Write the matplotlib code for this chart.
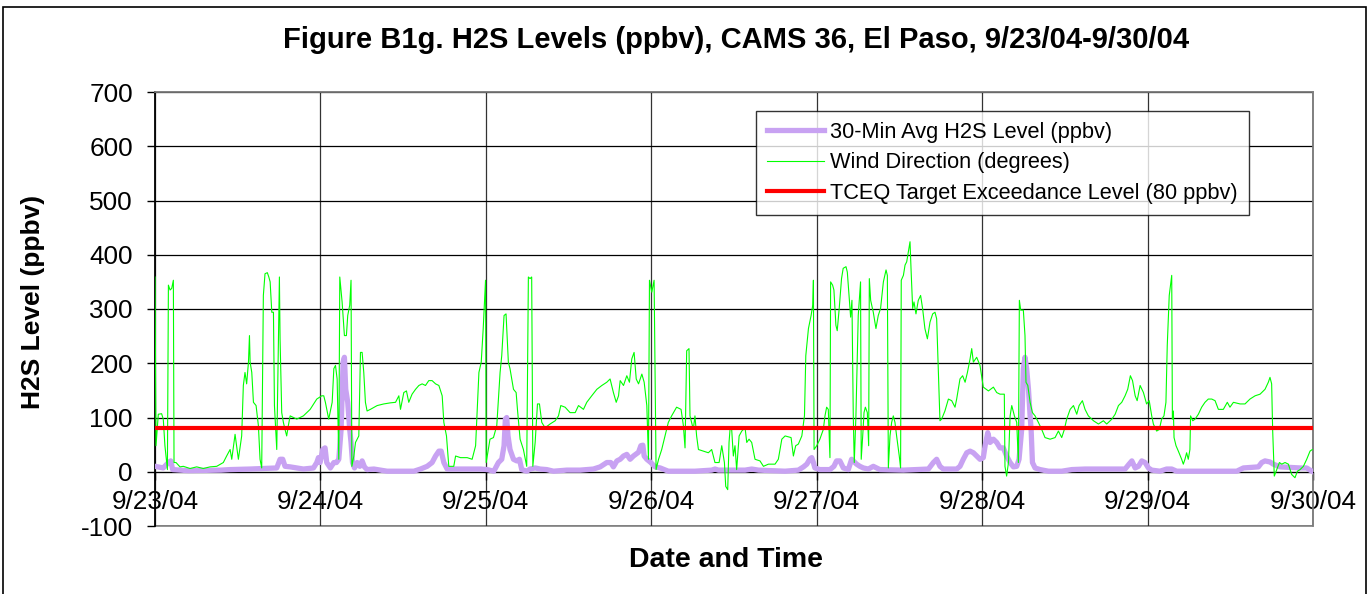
import numpy as np
import matplotlib
matplotlib.use("Agg")
import matplotlib.pyplot as plt
from matplotlib.patches import Rectangle

plt.rcParams['font.family'] = ['Liberation Sans', 'DejaVu Sans']

# days since 9/23/04 00:00
date_labels = ['9/23/04', '9/24/04', '9/25/04', '9/26/04', '9/27/04', '9/28/04', '9/29/04', '9/30/04']
y_ticks = [-100, 0, 100, 200, 300, 400, 500, 600, 700]
target_level = 80

h2s_day = [0, 0.05, 0.081, 0.095, 0.107, 0.2, 0.4, 0.454, 0.575, 0.736, 0.756, 0.772, 0.786, 0.817,
           0.897, 0.958, 0.978, 0.988, 0.998, 1.014, 1.028, 1.038, 1.06, 1.081, 1.097, 1.111, 1.125,
           1.137, 1.145, 1.153, 1.165, 1.177, 1.185, 1.194, 1.206, 1.222, 1.238, 1.252, 1.266, 1.282,
           1.323, 1.403, 1.565, 1.605, 1.645, 1.675, 1.696, 1.716, 1.730, 1.746, 1.766, 1.847, 1.968,
           2.008, 2.048, 2.076, 2.096, 2.110, 2.118, 2.126, 2.134, 2.146, 2.167, 2.187, 2.203, 2.217,
           2.247, 2.267, 2.298, 2.328, 2.368, 2.409, 2.489, 2.570, 2.650, 2.691, 2.731, 2.755, 2.771,
           2.792, 2.812, 2.832, 2.852, 2.872, 2.892, 2.923, 2.937, 2.949, 2.957, 2.973, 2.997, 3.023,
           3.054, 3.103, 3.264, 3.365, 3.385, 3.406, 3.567, 3.607, 3.648, 3.809, 3.889, 3.920, 3.940,
           3.960, 3.970, 3.980, 3.989, 4.019, 4.080, 4.104, 4.120, 4.140, 4.161, 4.191, 4.211, 4.221,
           4.241, 4.261, 4.282, 4.312, 4.342, 4.362, 4.382, 4.524, 4.675, 4.705, 4.725, 4.745, 4.765,
           4.846, 4.866, 4.886, 4.907, 4.927, 4.947, 4.967, 4.987, 5.007, 5.018, 5.034, 5.048, 5.068,
           5.088, 5.108, 5.128, 5.148, 5.169, 5.189, 5.209, 5.223, 5.239, 5.249, 5.259, 5.269, 5.280,
           5.290, 5.296, 5.304, 5.320, 5.350, 5.401, 5.481, 5.542, 5.622, 5.864, 5.888, 5.905, 5.925,
           5.945, 5.965, 5.985, 6.005, 6.025, 6.075, 6.115, 6.146, 6.176, 6.539, 6.579, 6.670, 6.690,
           6.710, 6.740, 6.760, 6.801, 6.922, 6.962, 6.982, 7.0]
h2s_ppbv = [10, 7, 17, 20, 4, 2, 3, 4, 5, 7, 23, 23, 10, 9,
            5, 7, 17, 26, 17, 41, 44, 17, 7, 17, 17, 23, 78,
            202, 211, 152, 128, 78, 54, 17, 7, 17, 10, 20, 9, 4,
            5, 1, 1, 5, 10, 17, 29, 38, 38, 17, 5, 5, 5,
            4, 1, 17, 23, 48, 97, 100, 66, 41, 23, 20, 23, 4,
            1, 5, 7, 5, 4, 1, 3, 3, 5, 9, 17, 17, 9,
            20, 23, 29, 32, 23, 29, 36, 48, 49, 29, 23, 17, 9,
            7, 1, 1, 3, 5, 3, 3, 5, 3, 1, 3, 9, 14,
            24, 26, 17, 7, 4, 4, 10, 20, 20, 7, 4, 23, 20,
            14, 10, 7, 5, 10, 7, 4, 3, 5, 17, 23, 10, 5,
            5, 10, 23, 35, 38, 35, 29, 23, 26, 48, 72, 54, 60,
            54, 44, 44, 29, 17, 9, 10, 23, 78, 190, 211, 190, 152,
            103, 78, 17, 7, 4, 1, 1, 4, 5, 5, 14, 20, 7,
            10, 20, 17, 7, 3, 1, 5, 5, 1, 1, 7, 9, 17,
            20, 18, 14, 9, 7, 7, 3, 0]

wind_day = [0.000, 0.006, 0.020, 0.040, 0.050, 0.060, 0.075, 0.081, 0.091, 0.101, 0.111, 0.115, 0.127,
            0.151, 0.171, 0.212, 0.252, 0.292, 0.333, 0.373, 0.413, 0.433, 0.454, 0.464, 0.484, 0.504,
            0.524, 0.534, 0.544, 0.554, 0.565, 0.571, 0.575, 0.585, 0.595, 0.611, 0.625, 0.635, 0.645,
            0.655, 0.665, 0.679, 0.688, 0.696, 0.706, 0.716, 0.722, 0.736, 0.752, 0.756, 0.766, 0.776,
            0.786, 0.796, 0.806, 0.817, 0.857, 0.897, 0.938, 0.978, 1.008,
            1.02, 1.03, 1.05, 1.071, 1.081, 1.091, 1.101, 1.111, 1.117, 1.131, 1.145, 1.157, 1.165,
            1.177, 1.185, 1.190, 1.202, 1.212, 1.222, 1.232, 1.242, 1.252, 1.262, 1.272, 1.282, 1.302,
            1.343, 1.383, 1.423, 1.454, 1.474, 1.484, 1.504, 1.520, 1.534, 1.554, 1.575, 1.595, 1.615,
            1.635, 1.655, 1.675, 1.696, 1.716, 1.736, 1.746, 1.762, 1.776, 1.806, 1.817, 1.847, 1.887,
            1.917, 1.938, 1.958, 1.972, 1.984, 1.998, 2.002,
            2.025, 2.046, 2.066, 2.086, 2.096, 2.110, 2.122, 2.136, 2.146, 2.167, 2.183, 2.191, 2.207,
            2.227, 2.247, 2.257, 2.267, 2.277, 2.284, 2.298, 2.312, 2.324, 2.338, 2.358, 2.388, 2.419,
            2.439, 2.453, 2.479, 2.509, 2.540, 2.560, 2.590, 2.610, 2.640, 2.671, 2.701, 2.731, 2.751,
            2.771, 2.788, 2.802, 2.812, 2.832, 2.852, 2.868, 2.882, 2.896, 2.909, 2.923, 2.943, 2.957,
            2.973, 2.983, 2.989, 3.003, 3.017, 3.029, 3.044,
            3.063, 3.083, 3.103, 3.123, 3.153, 3.180, 3.194, 3.204, 3.214, 3.228, 3.234, 3.254, 3.264,
            3.274, 3.285, 3.315, 3.345, 3.365, 3.385, 3.410, 3.426, 3.442, 3.450, 3.462, 3.470, 3.476,
            3.486, 3.496, 3.506, 3.516, 3.531, 3.547, 3.567, 3.577, 3.591, 3.607, 3.627, 3.657, 3.678,
            3.708, 3.748, 3.768, 3.789, 3.809, 3.845, 3.859, 3.873, 3.889, 3.910, 3.926, 3.934, 3.950,
            3.966, 3.976, 3.980, 3.984,
            4.000, 4.019, 4.040, 4.050, 4.060, 4.070, 4.080, 4.084, 4.096, 4.104, 4.116, 4.124, 4.136,
            4.150, 4.160, 4.177, 4.185, 4.197, 4.205, 4.213, 4.221, 4.227, 4.237, 4.251, 4.265, 4.269,
            4.278, 4.286, 4.294, 4.306, 4.314, 4.318, 4.326, 4.342, 4.358, 4.372, 4.386, 4.403, 4.419,
            4.427, 4.433, 4.443, 4.453, 4.463, 4.473, 4.483, 4.499, 4.507, 4.511, 4.524, 4.534, 4.544,
            4.554, 4.564, 4.570, 4.580, 4.588, 4.600, 4.614, 4.628, 4.640, 4.654, 4.669, 4.685, 4.701,
            4.715, 4.725, 4.735, 4.745, 4.755, 4.775, 4.796, 4.816, 4.836, 4.846, 4.866, 4.882, 4.897,
            4.911, 4.927, 4.937, 4.947, 4.967, 4.987,
            5.007, 5.038, 5.068, 5.088, 5.108, 5.134, 5.138, 5.148, 5.159, 5.169, 5.179, 5.195, 5.209,
            5.219, 5.225, 5.233, 5.249, 5.259, 5.265, 5.276, 5.290, 5.304, 5.320, 5.340, 5.360, 5.380,
            5.411, 5.441, 5.461, 5.481, 5.497, 5.511, 5.532, 5.552, 5.572, 5.586, 5.606, 5.622, 5.642,
            5.673, 5.703, 5.733, 5.753, 5.784, 5.804, 5.824, 5.844, 5.864, 5.880, 5.896, 5.909, 5.925,
            5.937, 5.955, 5.975,
            5.994, 6.010, 6.025, 6.035, 6.055, 6.071, 6.085, 6.099, 6.111, 6.119, 6.131, 6.146, 6.150,
            6.156, 6.160, 6.172, 6.186, 6.206, 6.216, 6.226, 6.236, 6.246, 6.256, 6.260, 6.273, 6.287,
            6.307, 6.327, 6.347, 6.367, 6.388, 6.408, 6.428, 6.458, 6.482, 6.498, 6.519, 6.559, 6.589,
            6.619, 6.650, 6.680, 6.710, 6.730, 6.740, 6.750, 6.756, 6.766, 6.781, 6.797, 6.811, 6.831,
            6.851, 6.871, 6.891, 6.906, 6.922, 6.942, 6.962, 6.982, 6.996]
wind_deg = [359, 48, 106, 107, 97, 48, 4, 344, 335, 338, 353, 17, 17,
            9, 10, 6, 9, 6, 9, 10, 17, 29, 41, 23, 69, 23,
            66, 159, 183, 162, 202, 251, 202, 183, 128, 122, 85, 23, 7,
            325, 365, 367, 359, 350, 294, 294, 122, 41, 359, 245, 109, 91,
            78, 66, 85, 103, 97, 103, 115, 134, 140,
            140, 128, 97, 128, 190, 196, 171, 23, 359, 313, 251, 251, 288,
            307, 353, 10, 29, 54, 60, 66, 220, 220, 183, 128, 112, 115,
            122, 125, 127, 128, 140, 115, 146, 149, 128, 143, 152, 159, 162,
            159, 168, 168, 162, 159, 140, 91, 66, 10, 10, 29, 26, 26,
            23, 48, 183, 202, 264, 353, 17,
            60, 63, 85, 183, 214, 288, 291, 202, 190, 152, 146, 115, 60,
            41, 10, 359, 356, 359, 10, 54, 125, 125, 91, 81, 88, 94,
            103, 122, 119, 109, 109, 122, 115, 128, 140, 152, 159, 165, 171,
            146, 128, 140, 168, 159, 177, 165, 208, 220, 171, 162, 180, 165,
            122, 23, 353, 331, 353, 4, 23,
            41, 66, 91, 103, 119, 115, 85, 44, 223, 227, 103, 78, 103,
            66, 41, 38, 35, 41, 17, 17, 48, 17, -27, -33, 54, 78,
            78, 29, 48, 4, 66, 75, 81, 54, 60, 54, 23, 20, 10,
            14, 14, 23, 60, 66, 63, 29, 48, 51, 66, 103, 214, 264,
            288, 307, 353, 41,
            48, 60, 78, 103, 119, 115, 26, 350, 344, 335, 270, 260, 301,
            356, 375, 378, 368, 319, 285, 316, 103, 17, 103, 288, 350, 23,
            66, 109, 119, 109, 48, 356, 316, 294, 264, 288, 301, 350, 372,
            362, 7, 66, 91, 103, 91, 66, 29, 7, 353, 362, 381, 387,
            406, 424, 375, 301, 313, 291, 316, 325, 301, 264, 245, 276, 291,
            294, 282, 190, 94, 97, 112, 134, 131, 119, 134, 171, 177, 165,
            183, 208, 227, 202, 211, 196,
            156, 149, 156, 146, 143, 143, 10, -8, 17, 103, 122, 103, 91,
            17, 316, 298, 298, 251, 165, 159, 128, 109, 103, 91, 78, 63,
            60, 63, 75, 63, 78, 97, 115, 122, 106, 122, 131, 115, 103,
            94, 88, 94, 88, 97, 106, 122, 128, 140, 152, 177, 168, 140,
            131, 159, 146,
            125, 131, 103, 88, 75, 78, 97, 103, 128, 233, 325, 362, 97,
            112, 63, 48, 38, 23, 14, 23, 35, 23, 41, 103, 94, 97,
            106, 119, 128, 134, 134, 131, 115, 115, 128, 119, 128, 125, 125,
            134, 140, 143, 152, 165, 174, 162, 78, -8, 4, 17, 14, 17,
            14, -5, -11, 1, 4, 10, 23, 38, 41]

fig = plt.figure(figsize=(13.69, 5.94), dpi=100)
fig.patches.append(Rectangle((3 / 1369, -0.02), 1363 / 1369, 1.02 - 7 / 594, transform=fig.transFigure,
                             fill=False, edgecolor='black', linewidth=1.2))

ax = fig.add_axes([155 / 1369, 1 - 526 / 594, 1158 / 1369, 434 / 594])

ax.plot(h2s_day, h2s_ppbv, color='#C8A2F2', linewidth=3.8, solid_joinstyle='round',
        label='30-Min Avg H2S Level (ppbv)', zorder=3)
ax.plot(wind_day, wind_deg, color='#00FF00', linewidth=0.8, label='Wind Direction (degrees)', zorder=4)
ax.plot([0, len(date_labels) - 1], [target_level, target_level], color='#FF0000', linewidth=3,
        label='TCEQ Target Exceedance Level (80 ppbv)', zorder=5)

ax.set_xlim(0, len(date_labels) - 1)
ax.set_ylim(-100, 700)
ax.set_yticks(y_ticks)
ax.set_yticklabels([str(v) for v in y_ticks])
ax.set_xticks(range(len(date_labels)))
ax.set_xticklabels(date_labels)

ax.grid(axis='y', color='black', linewidth=0.9)
ax.grid(axis='x', color='#333333', linewidth=0.9)
ax.set_axisbelow(True)

for side in ['top', 'right']:
    ax.spines[side].set_color('#808080')
    ax.spines[side].set_linewidth(1.2)
ax.spines['left'].set_color('black')
ax.spines['left'].set_linewidth(1.2)
# excel style: category axis crosses at zero
ax.spines['bottom'].set_position(('data', 0))
ax.spines['bottom'].set_color('black')
ax.add_patch(Rectangle((0, 0), 1, 1, transform=ax.transAxes, fill=False,
                       edgecolor='#808080', linewidth=1.2, clip_on=False, zorder=0))

ax.tick_params(axis='y', direction='out', length=6, width=1, pad=10, labelsize=18.8)
ax.tick_params(axis='x', direction='out', length=6, width=1, pad=7, labelsize=18.8)

fig.text(736 / 1369, 1 - 40 / 594, 'Figure B1g. H2S Levels (ppbv), CAMS 36, El Paso, 9/23/04-9/30/04',
         fontsize=21, fontweight='bold', ha='center', va='center')
fig.text(33 / 1369, 1 - 302 / 594, 'H2S Level (ppbv)', fontsize=19, fontweight='bold',
         rotation=90, ha='center', va='center')
fig.text(726 / 1369, 1 - 560 / 594, 'Date and Time', fontsize=20.5, fontweight='bold',
         ha='center', va='center')

leg = ax.legend(loc='upper left', bbox_to_anchor=((756 - 155) / 1158, (526 - 111) / 434),
                fontsize=15.7, frameon=True, fancybox=False, edgecolor='black', borderaxespad=0,
                handlelength=2.6, handletextpad=0.3, borderpad=0.5, labelspacing=0.43)
leg.get_frame().set_linewidth(1.0)

fig.savefig('out.png', dpi=100)
